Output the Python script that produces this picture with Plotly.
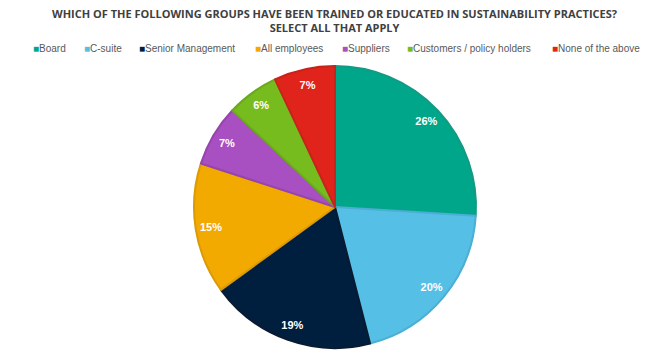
import plotly.graph_objects as go

labels = ["Board", "C-suite", "Senior Management", "All employees", "Suppliers",
          "Customers / policy holders", "None of the above"]
values = [26, 20, 19, 15, 7, 6, 7]
colors = ["#00A68A", "#55BFE6", "#001F3F", "#F2A900", "#A84FC1", "#77BC1F", "#E0241B"]
edge_colors = ["#129A84", "#4AAFD3", "#0A1A30", "#DC9A06", "#9645AD", "#6BA81E", "#C8231A"]
legend_x_px = [31, 82, 137, 253, 340, 405, 550]
title_text = ("<b>WHICH OF THE FOLLOWING GROUPS HAVE BEEN TRAINED OR EDUCATED IN SUSTAINABILITY PRACTICES?"
              "<br>SELECT ALL THAT APPLY</b>")

W, H = 658, 356
cx, cy, r = 335, 207, 141
domain = dict(x=[(cx - r) / W, (cx + r) / W], y=[(H - cy - r) / H, (H - cy + r) / H])

fig = go.Figure()
# coloured slices
fig.add_trace(go.Pie(
    labels=labels, values=values, sort=False, direction="clockwise", rotation=0,
    marker=dict(colors=colors, line=dict(color=edge_colors, width=2)),
    textinfo="none", domain=domain, hoverinfo="label+percent", showlegend=False,
))
# transparent ring carrying the percentage labels near the rim
fig.add_trace(go.Pie(
    labels=labels, values=values, sort=False, direction="clockwise", rotation=0,
    hole=0.78,
    marker=dict(colors=["rgba(0,0,0,0)"] * len(values), line=dict(width=0)),
    texttemplate="<b>%{percent:.0%}</b>", textposition="inside",
    insidetextorientation="horizontal",
    textfont=dict(color="white", size=11, family="Arial"),
    domain=domain, hoverinfo="skip", showlegend=False,
))

annotations = [dict(
    x=334 / W, y=1 - 21 / H, xref="paper", yref="paper",
    xanchor="center", yanchor="middle", showarrow=False,
    text=title_text, align="center",
    font=dict(family="Open Sans", size=11, color="#404040"),
)]
for lab, col, xp in zip(labels, colors, legend_x_px):
    annotations.append(dict(
        x=xp / W, y=1 - 48.5 / H, xref="paper", yref="paper",
        xanchor="left", yanchor="middle", showarrow=False,
        text=f"<span style='color:{col}'>■</span>{lab}",
        font=dict(family="Liberation Sans, Arial", size=10, color="#595959"),
    ))

fig.update_layout(
    width=W, height=H,
    margin=dict(l=0, r=0, t=0, b=0, autoexpand=False),
    paper_bgcolor="white", plot_bgcolor="white",
    annotations=annotations,
    showlegend=False,
)

fig.write_html("out.html", config={"displayModeBar": False},
               post_script="document.body.style.margin='0';document.body.style.overflow='hidden';")
